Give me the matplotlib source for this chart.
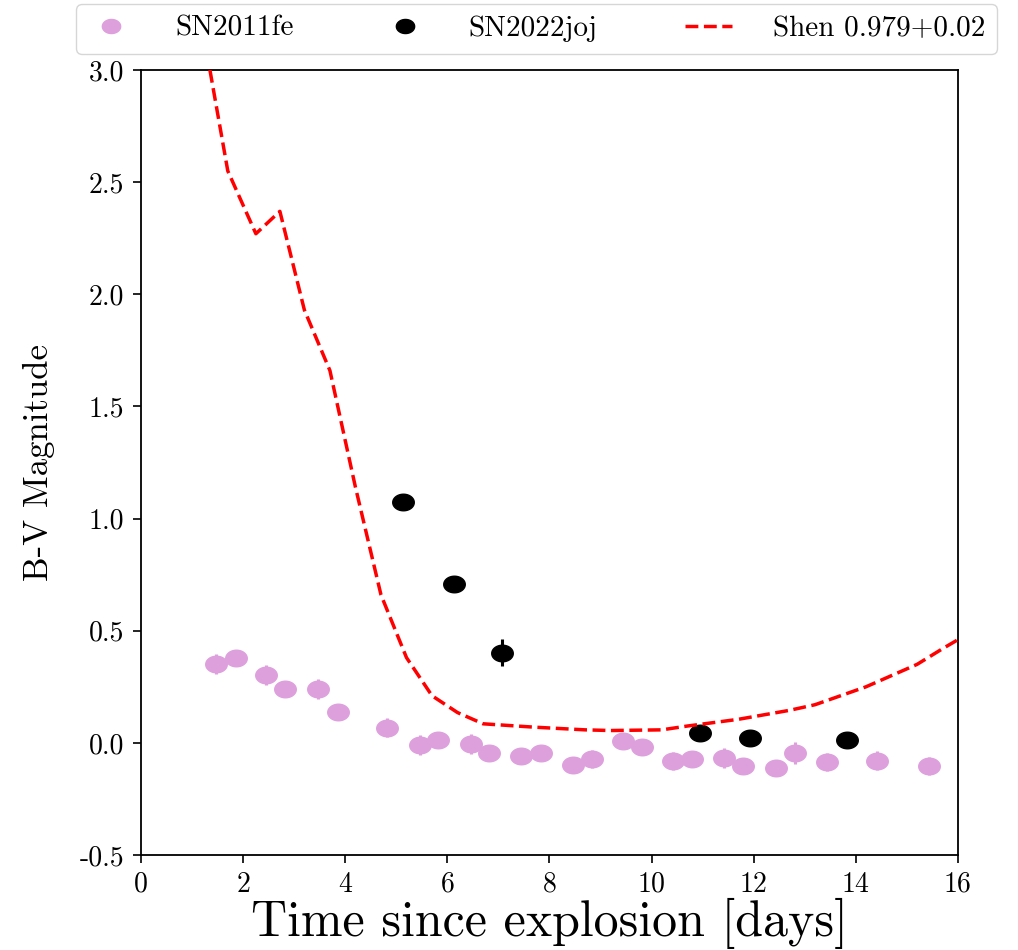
import numpy as np
import matplotlib
matplotlib.use('Agg')
import matplotlib.pyplot as plt
from matplotlib.path import Path

plt.rcParams['font.family'] = 'serif'
plt.rcParams['font.serif'] = ['cmr10', 'DejaVu Serif']
plt.rcParams['mathtext.fontset'] = 'cm'
plt.rcParams['axes.unicode_minus'] = False

# SN2011fe B-V colour
fe_t = [1.47, 1.86, 2.45, 2.82, 3.47, 3.86, 4.82, 5.46, 5.82, 6.46, 6.82, 7.44, 7.83,
        8.46, 8.83, 9.44, 9.81, 10.42, 10.79, 11.42, 11.79, 12.44, 12.81, 13.44, 14.41, 15.43]
fe_bv = [0.352, 0.379, 0.303, 0.241, 0.241, 0.138, 0.067, -0.009, 0.013, -0.004, -0.045,
         -0.058, -0.045, -0.098, -0.071, 0.009, -0.018, -0.080, -0.071, -0.067, -0.103,
         -0.111, -0.045, -0.085, -0.080, -0.103]
fe_err = [0.045, 0.03, 0.045, 0.03, 0.045, 0.03, 0.042, 0.045, 0.03, 0.045, 0.03, 0.03, 0.03,
          0.035, 0.04, 0.03, 0.035, 0.04, 0.03, 0.045, 0.03, 0.035, 0.05, 0.042, 0.042, 0.04]

# SN2022joj B-V colour
joj_t = [5.13, 6.13, 7.07, 10.95, 11.93, 13.83]
joj_bv = [1.074, 0.709, 0.401, 0.045, 0.022, 0.013]
joj_err = [0.02, 0.02, 0.06, 0.02, 0.02, 0.02]

# Shen model, 0.979 Msun + 0.02 shell
shen_t = [1.35, 1.70, 2.25, 2.72, 3.20, 3.70, 4.20, 4.70, 5.20, 5.70, 6.20, 6.70, 7.70,
          8.70, 9.20, 10.20, 10.70, 11.20, 11.70, 12.20, 12.70, 13.20, 13.70, 14.20,
          14.70, 15.20, 15.70, 16.00]
shen_bv = [3.00, 2.55, 2.27, 2.37, 1.93, 1.66, 1.14, 0.66, 0.38, 0.21, 0.135, 0.085, 0.07,
           0.058, 0.055, 0.058, 0.075, 0.09, 0.105, 0.125, 0.145, 0.17, 0.21, 0.25,
           0.30, 0.35, 0.42, 0.46]

# slightly flattened dot, the reference looks stretched sideways
th = np.linspace(0, 2 * np.pi, 64)
oval = Path(np.column_stack([np.cos(th), 0.77 * np.sin(th)]), closed=True)

fig = plt.figure(figsize=(10.18, 9.5), dpi=100)
ax = fig.add_axes([0.1385, 0.1, 0.8025, 0.8263])

ax.errorbar(fe_t, fe_bv, yerr=fe_err, fmt='none', ecolor='plum', elinewidth=2.2, zorder=2)
ax.plot(fe_t, fe_bv, linestyle='none', marker=oval, markersize=15.5, color='plum',
        label='SN2011fe', zorder=3)
ax.errorbar(joj_t, joj_bv, yerr=joj_err, fmt='none', ecolor='black', elinewidth=2.2, zorder=4)
ax.plot(joj_t, joj_bv, linestyle='none', marker=oval, markersize=15.5, color='black',
        label='SN2022joj', zorder=5)
ax.plot(shen_t, shen_bv, '--', color='red', linewidth=2.5, label='Shen 0.979+0.02', zorder=6)

ax.set_xlim(0, 16)
ax.set_ylim(-0.5, 3.0)
ax.set_xticks(np.arange(0, 17, 2))
ax.set_yticks(np.arange(-0.5, 3.01, 0.5))
ax.tick_params(labelsize=20, length=6, width=1.2, pad=6)
for s in ax.spines.values():
    s.set_linewidth(1.3)

ax.set_xlabel('Time since explosion [days]', fontsize=36, labelpad=0)
ax.set_ylabel('B-V Magnitude', fontsize=25, labelpad=18)

fig.legend(loc='upper center', bbox_to_anchor=(0.527, 0.996), borderaxespad=0, ncol=3,
           fontsize=21, markerscale=0.85, handlelength=1.6, handletextpad=1.4,
           columnspacing=3.0)

plt.savefig('out.png', dpi=100)
